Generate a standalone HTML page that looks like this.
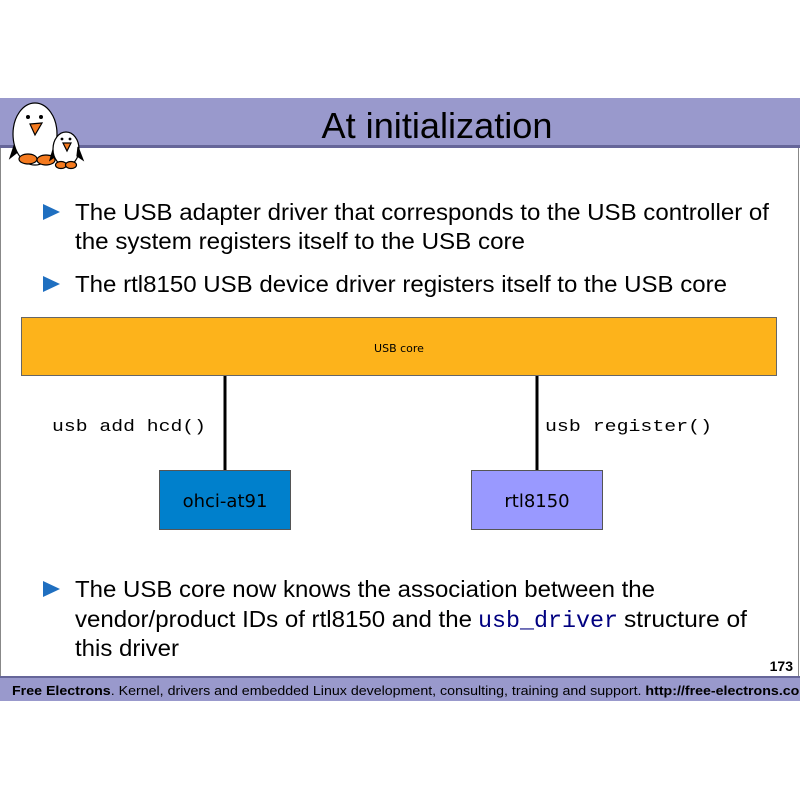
<!DOCTYPE html>
<html><head><meta charset="utf-8"><style>
html,body{margin:0;padding:0;background:#fff}
svg{display:block}
</style></head><body>
<svg width="800" height="800" viewBox="0 0 800 800" xmlns="http://www.w3.org/2000/svg">
<rect x="0" y="0" width="800" height="800" fill="#fff"/>
<!-- header -->
<rect x="0" y="98" width="800" height="48" fill="#9999cc"/>
<rect x="0" y="145" width="800" height="3" fill="#666699"/>
<text x="437" y="138" text-anchor="middle" font-family="Liberation Sans, sans-serif" font-size="36" textLength="231" lengthAdjust="spacingAndGlyphs" fill="#000">At initialization</text>
<!-- frame -->
<line x1="0.5" y1="148" x2="0.5" y2="677" stroke="#888" stroke-width="1"/>
<line x1="798.5" y1="148" x2="798.5" y2="677" stroke="#888" stroke-width="1"/>
<!-- penguins -->
<g stroke="#000" stroke-width="1.2">
<path d="M16 140 L10 158 L20 150 Z" fill="#000"/>
<ellipse cx="35" cy="134" rx="22" ry="31" fill="#fff"/>
<ellipse cx="28" cy="159" rx="9" ry="5" fill="#f47a1f"/>
<ellipse cx="46" cy="160" rx="9" ry="5" fill="#f47a1f"/>
<path d="M30 124 L42 123 L35 135 Z" fill="#f47a1f"/>
<path d="M54 146 L50 160 L60 153 Z" fill="#000"/>
<ellipse cx="66" cy="149" rx="13" ry="17" fill="#fff"/>
<ellipse cx="61" cy="165" rx="5.5" ry="3.5" fill="#f47a1f"/>
<ellipse cx="71" cy="165" rx="5.5" ry="3.5" fill="#f47a1f"/>
<path d="M63 143 L71 143 L67 151 Z" fill="#f47a1f"/>
<path d="M78 147 L83 160 L77 156 Z" fill="#000"/>
</g>
<circle cx="28" cy="117" r="2" fill="#000"/><circle cx="41" cy="117" r="2" fill="#000"/>
<circle cx="62" cy="139" r="1.4" fill="#000"/><circle cx="70" cy="139" r="1.4" fill="#000"/>
<!-- bullets -->
<g fill="#1f6fc0">
<path d="M43 204 L60 212 L43 220 Z"/>
<path d="M43 276 L60 284 L43 292 Z"/>
<path d="M43 581 L60 589 L43 597 Z"/>
</g>
<g font-family="Liberation Sans, sans-serif" font-size="23" fill="#000">
<text x="75" y="220" textLength="694" lengthAdjust="spacingAndGlyphs">The USB adapter driver that corresponds to the USB controller of</text>
<text x="75" y="249" textLength="450" lengthAdjust="spacingAndGlyphs">the system registers itself to the USB core</text>
<text x="75" y="292" textLength="652" lengthAdjust="spacingAndGlyphs">The rtl8150 USB device driver registers itself to the USB core</text>
<text x="75" y="597" textLength="580" lengthAdjust="spacingAndGlyphs">The USB core now knows the association between the</text>
<text x="75" y="627" textLength="397" lengthAdjust="spacingAndGlyphs">vendor/product IDs of rtl8150 and the</text>
<text x="478" y="627" font-family="Liberation Mono, monospace" fill="#000080" textLength="140" lengthAdjust="spacingAndGlyphs">usb_driver</text>
<text x="624" y="627" textLength="123" lengthAdjust="spacingAndGlyphs">structure of</text>
<text x="75" y="656" textLength="104" lengthAdjust="spacingAndGlyphs">this driver</text>
</g>
<!-- diagram -->
<rect x="21.5" y="317.5" width="755" height="58" fill="#fdb31b" stroke="#666" stroke-width="1"/>
<text x="399" y="352" text-anchor="middle" font-family="DejaVu Sans, sans-serif" font-size="11" fill="#000">USB core</text>
<line x1="225" y1="376" x2="225" y2="470" stroke="#000" stroke-width="3"/>
<line x1="537" y1="376" x2="537" y2="470" stroke="#000" stroke-width="3"/>
<g font-family="Liberation Mono, monospace" font-size="17" fill="#000">
<text x="52" y="431" textLength="154" lengthAdjust="spacingAndGlyphs">usb add hcd()</text>
<text x="545" y="431" textLength="167" lengthAdjust="spacingAndGlyphs">usb register()</text>
</g>
<rect x="159.5" y="470.5" width="131" height="59" fill="#0080cc" stroke="#555" stroke-width="1"/>
<rect x="471.5" y="470.5" width="131" height="59" fill="#9999ff" stroke="#555" stroke-width="1"/>
<g font-family="DejaVu Sans, sans-serif" font-size="18" fill="#000" text-anchor="middle">
<text x="225" y="507">ohci-at91</text>
<text x="537" y="507">rtl8150</text>
</g>
<!-- page number / footer -->
<text x="793" y="671" text-anchor="end" font-family="Liberation Sans, sans-serif" font-weight="bold" font-size="14" fill="#000">173</text>
<rect x="0" y="676" width="800" height="2" fill="#666699"/>
<rect x="0" y="678" width="800" height="23" fill="#9999cc"/>
<text x="12" y="695" font-family="Liberation Sans, sans-serif" font-size="13" fill="#000" textLength="800" lengthAdjust="spacingAndGlyphs"><tspan font-weight="bold">Free Electrons</tspan>. Kernel, drivers and embedded Linux development, consulting, training and support. <tspan font-weight="bold">http://free-electrons.com</tspan></text>
</svg>
</body></html>
